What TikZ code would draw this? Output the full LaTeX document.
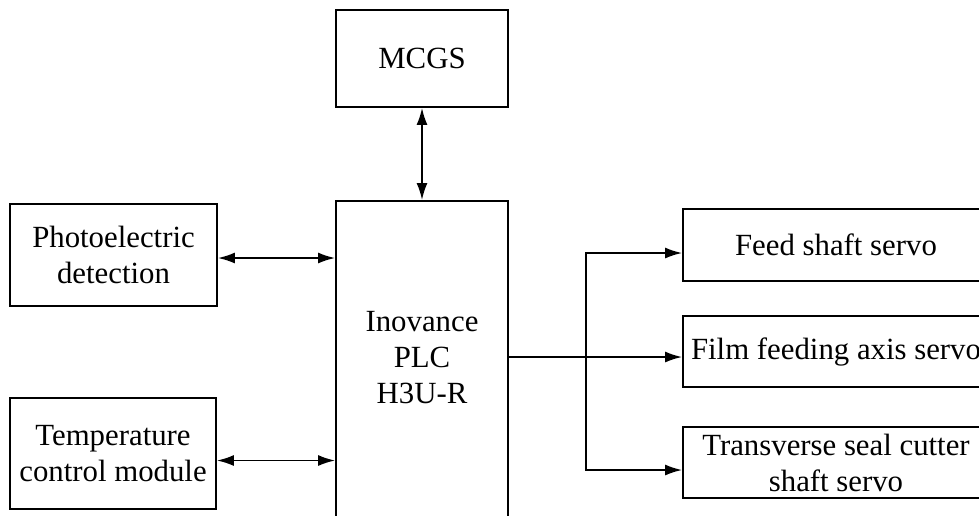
\documentclass[tikz,border=0pt]{standalone}
\usepackage{fontspec}
\setmainfont{Liberation Serif}
\usetikzlibrary{arrows.meta}

\begin{document}
\begin{tikzpicture}[x=1pt, y=-1pt, >={Latex[length=17pt,width=11pt]},
  box/.style={draw, line width=1.8pt, align=center, inner sep=0pt, font=\fontsize{30.8}{36}\selectfont},
  link/.style={line width=1.8pt}]
  \useasboundingbox (0,0) rectangle (979,515);
  \clip (0,0) rectangle (979,515);

  % HMI on top
  \node[box, minimum width=172pt, minimum height=97pt] (mcgs) at (422,58.5) {MCGS};

  % Controller
  \node[box, minimum width=172pt, minimum height=340pt, anchor=north] (plc) at (422,200) {};
  \node[align=center, inner sep=0pt, font=\fontsize{30.8}{36}\selectfont] (plctxt) at (422,357.5) {Inovance\\PLC\\H3U-R};

  % Inputs on the left
  \node[box, minimum width=207pt, minimum height=102pt] (photo) at (113.5,255) {Photoelectric\\detection};
  \node[box, minimum width=206pt, minimum height=111pt] (temp) at (113,453.5) {Temperature\\control module};

  % Servos on the right
  \node[box, minimum width=306pt, minimum height=72pt] (feed) at (836,245) {Feed shaft servo};
  \node[box, minimum width=306pt, minimum height=71pt] (film) at (836,351.5) {Film feeding axis servo};
  \node[box, minimum width=306pt, minimum height=71pt] (cutter) at (836,462.5) {Transverse seal cutter\\shaft servo};

  % Links
  \draw[link, <->] (mcgs) -- (plc);
  \draw[link, <->] ([yshift=-3pt]photo.east) -- ([yshift=-3pt]photo.east -| plc.west);
  \draw[link, <->] ([yshift=-7pt]temp.east) -- ([yshift=-7pt]temp.east -| plc.west);

  \coordinate (split) at (586,357);
  \draw[link, ->] (split -| plc.east) -- (split -| film.west);
  \draw[link, ->] (split) |- ([yshift=-8pt]feed.west);
  \draw[link, ->] (split) |- ([yshift=-7.5pt]cutter.west);
\end{tikzpicture}
\end{document}
